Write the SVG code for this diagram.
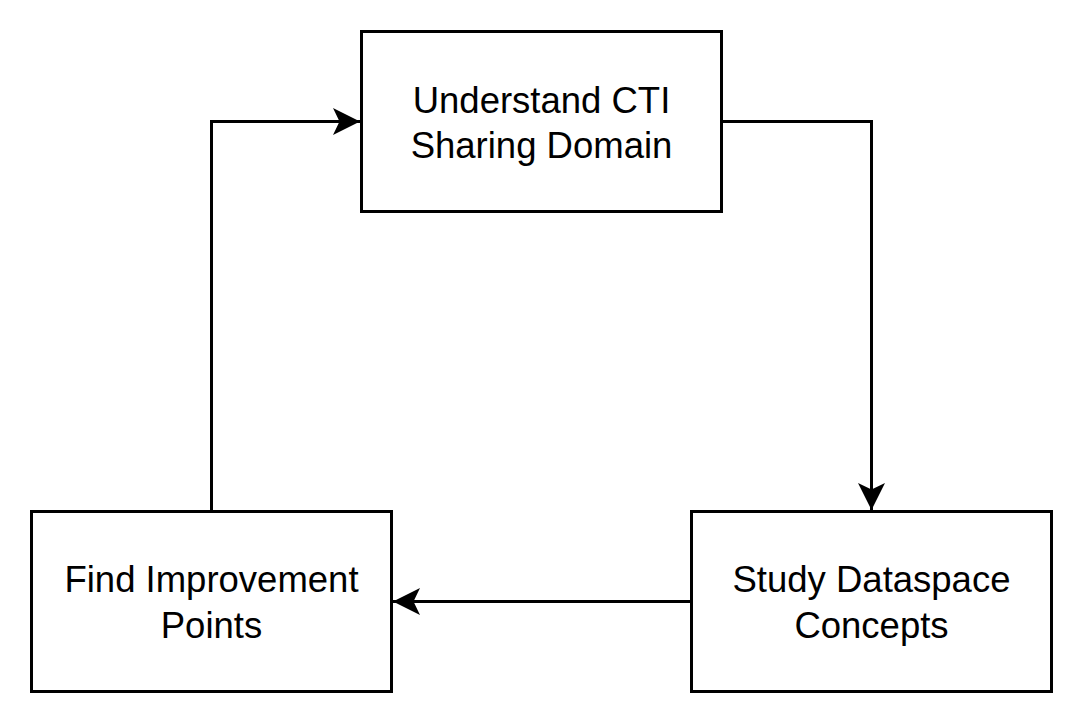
<svg xmlns="http://www.w3.org/2000/svg" width="1083" height="723" viewBox="0 0 1083 723">
  <style>
    .box { fill: #ffffff; stroke: #000000; stroke-width: 3; }
    .lbl { font-family: "Liberation Sans", Arial, sans-serif; font-size: 36.5px; fill: #000000; text-anchor: middle; }
    .edge { fill: none; stroke: #000000; stroke-width: 3; marker-end: url(#arrow); }
  </style>
  <defs>
    <marker id="arrow" markerUnits="userSpaceOnUse" viewBox="0 0 28 28" refX="27" refY="14" markerWidth="28" markerHeight="28" orient="auto">
      <path d="M27,14 L0,0.5 L6.5,14 L0,27.5 Z" fill="#000000"/>
    </marker>
  </defs>
  <rect width="1083" height="723" fill="#ffffff"/>
  <g id="connectors">
    <path class="edge" d="M721.5,121.5 H871.5 V510"/>
    <path class="edge" d="M691.5,601.5 H393"/>
    <path class="edge" d="M211.5,511.5 V121.5 H360"/>
  </g>
  <g id="node-understand">
    <rect class="box" x="361.5" y="31.5" width="360" height="180"/>
    <text class="lbl" x="541.5" y="112.5">Understand CTI</text>
    <text class="lbl" x="541.5" y="158">Sharing Domain</text>
  </g>
  <g id="node-study">
    <rect class="box" x="691.5" y="511.5" width="360" height="180"/>
    <text class="lbl" x="871.5" y="592">Study Dataspace</text>
    <text class="lbl" x="871.5" y="637.5">Concepts</text>
  </g>
  <g id="node-find">
    <rect class="box" x="31.5" y="511.5" width="360" height="180"/>
    <text class="lbl" x="211.5" y="592">Find Improvement</text>
    <text class="lbl" x="211.5" y="637.5">Points</text>
  </g>
</svg>
